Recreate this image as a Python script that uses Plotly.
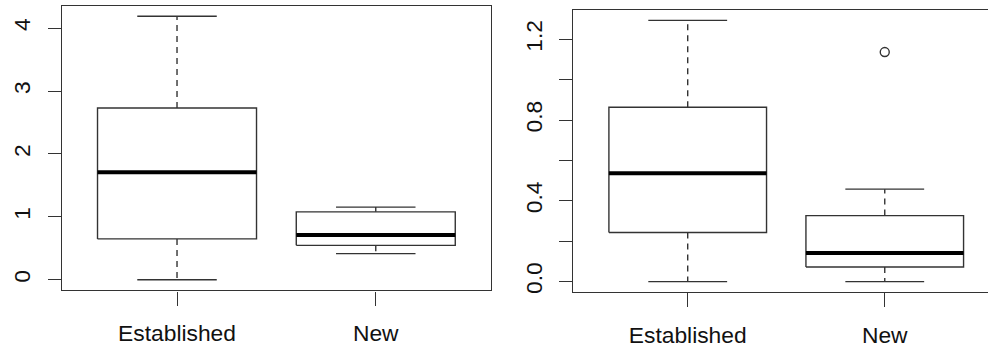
import plotly.graph_objects as go

categories = ["Established", "New"]

# Panel 1 five-number summaries
p1_min = [0.0, 0.416]
p1_q1 = [0.65, 0.548]
p1_med = [1.71, 0.713]
p1_q3 = [2.73, 1.08]
p1_max = [4.19, 1.156]
p1_out = [[], []]

# Panel 2 five-number summaries
p2_min = [0.0, 0.0]
p2_q1 = [0.243, 0.072]
p2_med = [0.537, 0.142]
p2_q3 = [0.864, 0.327]
p2_max = [1.294, 0.458]
p2_out = [[], [1.137]]

p1_ticks = [0, 1, 2, 3, 4]
p1_ticklabels = ["0", "1", "2", "3", "4"]
p2_ticks = [0.0, 0.2, 0.4, 0.6, 0.8, 1.0, 1.2]
p2_ticklabels = ["0.0", "", "0.4", "", "0.8", "", "1.2"]

FRAME = "#333333"
FONT = dict(family="Liberation Sans, Arial, sans-serif", size=22.8, color="#111111")

fig = go.Figure()


def add_panel(xa, ya, mins, q1s, meds, q3s, maxs, outs):
    hw = 0.4
    cw = 0.2
    for i, _ in enumerate(categories):
        c = i + 1
        # whiskers (dashed)
        fig.add_trace(go.Scatter(x=[c, c, None, c, c], y=[q3s[i], maxs[i], None, q1s[i], mins[i]],
                                 mode="lines", line=dict(color=FRAME, width=1.4, dash="6px,5px"),
                                 xaxis=xa, yaxis=ya, showlegend=False, hoverinfo="skip"))
        # caps
        fig.add_trace(go.Scatter(x=[c - cw, c + cw, None, c - cw, c + cw],
                                 y=[maxs[i], maxs[i], None, mins[i], mins[i]],
                                 mode="lines", line=dict(color=FRAME, width=1.4),
                                 xaxis=xa, yaxis=ya, showlegend=False, hoverinfo="skip"))
        # box
        fig.add_trace(go.Scatter(x=[c - hw, c + hw, c + hw, c - hw, c - hw],
                                 y=[q1s[i], q1s[i], q3s[i], q3s[i], q1s[i]],
                                 mode="lines", line=dict(color=FRAME, width=1.4),
                                 xaxis=xa, yaxis=ya, showlegend=False, hoverinfo="skip"))
        # median
        fig.add_trace(go.Scatter(x=[c - hw, c + hw], y=[meds[i], meds[i]],
                                 mode="lines", line=dict(color="black", width=4),
                                 xaxis=xa, yaxis=ya, showlegend=False, hoverinfo="skip"))
        if outs[i]:
            fig.add_trace(go.Scatter(x=[c] * len(outs[i]), y=outs[i], mode="markers",
                                     marker=dict(symbol="circle-open", size=9,
                                                 line=dict(color=FRAME, width=1.4), color=FRAME),
                                     xaxis=xa, yaxis=ya, showlegend=False, hoverinfo="skip"))


add_panel("x", "y", p1_min, p1_q1, p1_med, p1_q3, p1_max, p1_out)
add_panel("x2", "y2", p2_min, p2_q1, p2_med, p2_q3, p2_max, p2_out)


def yr(mins, maxs, outs):
    lo = min(mins + [v for o in outs for v in o])
    hi = max(maxs + [v for o in outs for v in o])
    pad = (hi - lo) * 0.04
    return [lo - pad, hi + pad]


xcommon = dict(tickmode="array", tickvals=[1, 2], ticktext=categories, ticks="outside",
               ticklen=14, tickwidth=1.4, tickcolor=FRAME, showline=True, linecolor=FRAME,
               linewidth=1.4, showgrid=False, zeroline=False, tickfont=FONT,
               ticklabelstandoff=8)
ycommon = dict(tickmode="array", ticks="outside", ticklen=13, tickwidth=1.4, tickcolor=FRAME,
               showline=True, linecolor=FRAME, linewidth=1.4, showgrid=False, zeroline=False,
               tickfont=FONT, tickangle=-90, ticklabelstandoff=8)

fig.update_layout(
    width=988, height=354,
    margin=dict(l=0, r=0, t=0, b=0),
    paper_bgcolor="white", plot_bgcolor="white",
    xaxis=dict(domain=[0.0625, 0.497], range=[0.42, 2.58], mirror=True, anchor="y", **xcommon),
    yaxis=dict(domain=[0.1751, 0.984], range=yr(p1_min, p1_max, p1_out), mirror=True,
               tickvals=p1_ticks, ticktext=p1_ticklabels, anchor="x", **ycommon),
    xaxis2=dict(domain=[0.5804, 1.0], range=[0.42, 2.524], mirror=True, anchor="y2", **xcommon),
    yaxis2=dict(domain=[0.1703, 0.9718], range=yr(p2_min, p2_max, p2_out), mirror=False,
                tickvals=p2_ticks, ticktext=p2_ticklabels, anchor="x2", **ycommon),
)

fig.write_html("out.html")
